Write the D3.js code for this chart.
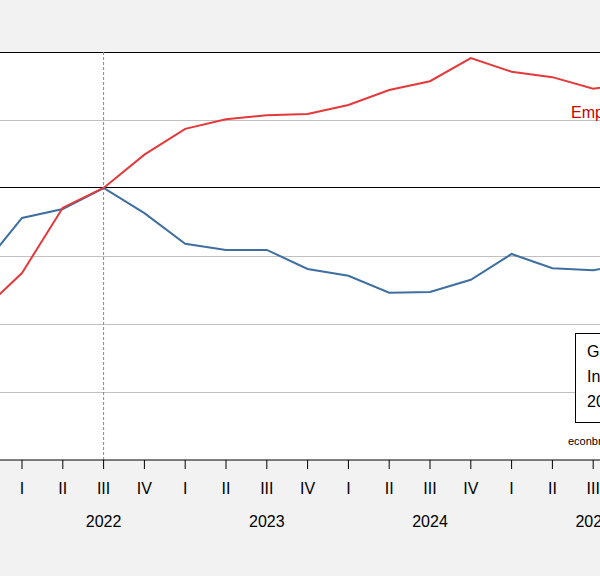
<!DOCTYPE html>
<html><head><meta charset="utf-8">
<script src="https://cdn.jsdelivr.net/npm/d3@7"></script>
<style>body{margin:0;background:#f2f2f2}svg{display:block;font-family:Arial,"Liberation Sans",sans-serif}</style>
</head><body><div id="chart"></div>
<script>
// quarters, 2021Q4 .. 2025Q4 (index 2022Q3 = 100)
var quarters = ["2021Q4","2022Q1","2022Q2","2022Q3","2022Q4","2023Q1","2023Q2","2023Q3","2023Q4",
  "2024Q1","2024Q2","2024Q3","2024Q4","2025Q1","2025Q2","2025Q3","2025Q4"];
var employment = [98.18,98.75,99.71,100,100.49,100.87,101.01,101.07,101.09,101.22,101.44,101.57,101.91,101.71,101.63,101.46,101.55];
var gdi = [98.82,99.56,99.69,100,99.63,99.18,99.09,99.09,98.81,98.71,98.46,98.47,98.65,99.03,98.82,98.79,98.9];
var quarterLabels = ["I","II","III","IV"];
var years = ["2022","2023","2024","2025"];

var W = 600, H = 576;
var svg = d3.select("#chart").append("svg").attr("width", W).attr("height", H);

// 2022Q1 (i=1) at x=22, 40.8 px per quarter
var x = d3.scaleLinear().domain([1, 14]).range([22, 22 + 13 * 40.8]);
var y = d3.scaleLinear().domain([96, 102]).range([460, 52]);
var plotTop = 52, plotBottom = 460;

svg.append("rect").attr("x", 0).attr("y", plotTop).attr("width", W).attr("height", plotBottom - plotTop).attr("fill", "white");

// gridlines
[97, 98, 99, 101].forEach(function(v) {
  svg.append("line").attr("x1", 0).attr("x2", W).attr("y1", Math.round(y(v)) + 0.5).attr("y2", Math.round(y(v)) + 0.5)
    .attr("stroke", "#c0c0c0").attr("stroke-width", 1);
});
svg.append("line").attr("x1", 0).attr("x2", W).attr("y1", y(100) - 0.5).attr("y2", y(100) - 0.5).attr("stroke", "#000");
svg.append("line").attr("x1", 0).attr("x2", W).attr("y1", plotTop + 0.5).attr("y2", plotTop + 0.5).attr("stroke", "#000");

// dashed reference at 2022Q3
svg.append("line").attr("x1", x(3)).attr("x2", x(3)).attr("y1", plotTop).attr("y2", plotBottom)
  .attr("stroke", "#888").attr("stroke-dasharray", "3,2");

var line = d3.line().x(function(d, i) { return x(i); }).y(function(d) { return y(d); });
svg.append("path").datum(gdi).attr("d", line).attr("fill", "none").attr("stroke", "#3f6fa0").attr("stroke-width", 2);
svg.append("path").datum(employment).attr("d", line).attr("fill", "none").attr("stroke", "#e4393b").attr("stroke-width", 2);

// x axis
svg.append("line").attr("x1", 0).attr("x2", W).attr("y1", plotBottom).attr("y2", plotBottom).attr("stroke", "#000");
var axis = svg.append("g").attr("font-size", 16).attr("text-anchor", "middle");
quarters.forEach(function(q, i) {
  if (i === 0) return;
  var px = x(i);
  svg.append("line").attr("x1", px).attr("x2", px).attr("y1", plotBottom).attr("y2", plotBottom + 9).attr("stroke", "#000");
  axis.append("text").attr("x", px).attr("y", plotBottom + 34).text(quarterLabels[(i - 1) % 4]);
});
years.forEach(function(yr, k) {
  axis.append("text").attr("x", x(3 + 4 * k)).attr("y", plotBottom + 67).text(yr);
});

// labels
svg.append("text").attr("x", 571).attr("y", 118).attr("font-size", 16).attr("fill", "#cc0000").text("Employment");
svg.append("rect").attr("x", 575.5).attr("y", 333.5).attr("width", 80).attr("height", 89).attr("fill", "white").attr("stroke", "#000");
["GDI", "Index,", "2022Q3=100"].forEach(function(t, i) {
  svg.append("text").attr("x", 587).attr("y", 357 + i * 25).attr("font-size", 16).text(t);
});
svg.append("text").attr("x", 568).attr("y", 445).attr("font-size", 11).text("econbrowser");
</script></body></html>
